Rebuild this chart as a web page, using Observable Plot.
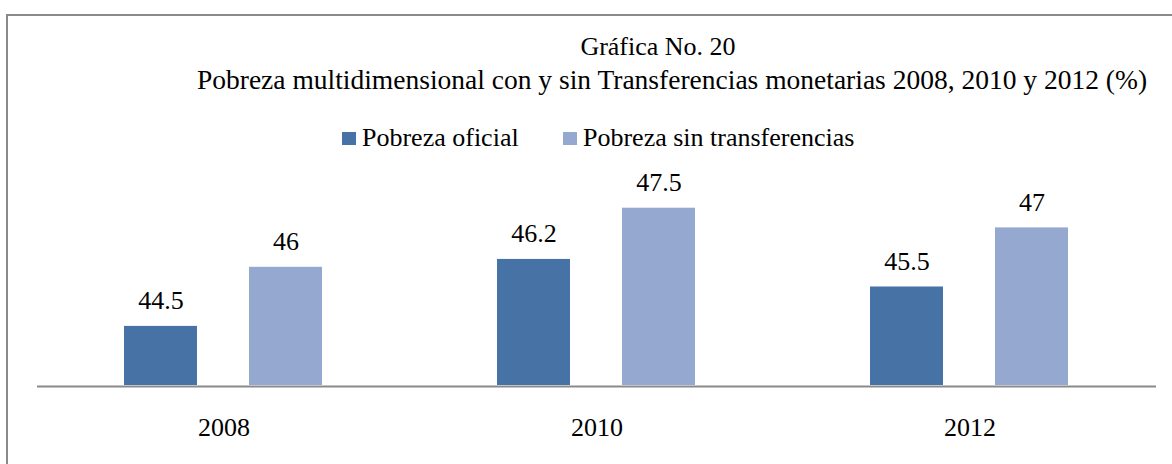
<!DOCTYPE html>
<html>
<head>
<meta charset="utf-8">
<script src="https://cdn.jsdelivr.net/npm/d3@7"></script>
<script src="https://cdn.jsdelivr.net/npm/@observablehq/plot@0.6"></script>
<style>
  html, body { margin: 0; padding: 0; background: #fff; }
  #wrap { position: relative; width: 1172px; height: 464px; overflow: hidden; font-family: "Liberation Serif", "Times New Roman", serif; color: #000; }
  #frame { position: absolute; left: 6px; top: 14px; width: 1200px; height: 500px; border-left: 2px solid #8a8a8a; border-top: 2px solid #8a8a8a; box-sizing: border-box; }
  .t { position: absolute; font-family: "Liberation Serif", "Times New Roman", serif; font-size: 26px; line-height: 26px; white-space: nowrap; }
  .sw { position: absolute; width: 14px; height: 13px; }
  #chart { position: absolute; left: 0; top: 160px; }
  #chart svg text { font-family: "Liberation Serif", "Times New Roman", serif; }
</style>
</head>
<body>
<div id="wrap">
  <div id="frame"></div>
  <div class="t" id="title1"></div>
  <div class="t" id="title2"></div>
  <div id="legend"></div>
  <div id="chart"></div>
</div>
<script>
const years = ["2008", "2010", "2012"];
const seriesNames = ["Pobreza oficial", "Pobreza sin transferencias"];
const oficial = [44.5, 46.2, 45.5];
const sinTransferencias = [46, 47.5, 47];
const seriesColors = ["#4672a6", "#95a9d0"];
const titleLine1 = "Gráfica No. 20";
const titleLine2 = "Pobreza multidimensional con y sin Transferencias monetarias 2008, 2010 y 2012 (%)";

const data = [];
years.forEach((y, i) => {
  data.push({year: y, series: seriesNames[0], value: oficial[i]});
  data.push({year: y, series: seriesNames[1], value: sinTransferencias[i]});
});

const FONT = '"Liberation Serif", "Times New Roman", serif';

function placeCentered(el, text, cx, baseline, size) {
  el.textContent = text;
  el.style.fontSize = size + "px";
  el.style.lineHeight = size + "px";
  const w = el.getBoundingClientRect().width;
  el.style.left = (cx - w / 2) + "px";
  el.style.top = (baseline - 0.8375 * size) + "px";
}
placeCentered(document.getElementById("title1"), titleLine1, 658, 56, 26);
placeCentered(document.getElementById("title2"), titleLine2, 672, 89, 27.5);

// Legend
const legend = document.getElementById("legend");
const legendX = [342, 563];
seriesNames.forEach((name, i) => {
  const sw = document.createElement("div");
  sw.className = "sw";
  sw.style.left = legendX[i] + "px";
  sw.style.top = "132px";
  sw.style.background = seriesColors[i];
  legend.appendChild(sw);
  const tx = document.createElement("div");
  tx.className = "t";
  tx.textContent = name;
  tx.style.left = (legendX[i] + 20) + "px";
  tx.style.top = (147 - 0.8375 * 26) + "px";
  legend.appendChild(tx);
});

const plot = Plot.plot({
  width: 1172,
  height: 304,
  marginLeft: 36,
  marginRight: 16,
  marginTop: 28,
  marginBottom: 79,
  style: {fontFamily: FONT, fontSize: "26px", color: "#000", background: "transparent"},
  fx: {domain: years, padding: 0, label: null},
  x: {domain: seriesNames, paddingInner: 0.413, paddingOuter: 0.688, axis: null},
  y: {domain: [43, 48], axis: null},
  color: {domain: seriesNames, range: seriesColors},
  marks: [
    Plot.barY(data, {fx: "year", x: "series", y1: 43, y2: "value", fill: "series"}),
    Plot.ruleY([43], {stroke: "#8a8a8a", strokeWidth: 2, dy: 1}),
    Plot.text(data, {fx: "year", x: "series", y: "value", text: d => String(d.value), lineAnchor: "bottom", dy: -17, fontSize: 26, fontFamily: FONT, fill: "#000"}),
    Plot.axisFx({anchor: "bottom", tickSize: 0, tickPadding: 32, fontSize: 26, fontFamily: FONT, label: null, fill: "#000"})
  ]
});
document.getElementById("chart").appendChild(plot);
</script>
</body>
</html>
